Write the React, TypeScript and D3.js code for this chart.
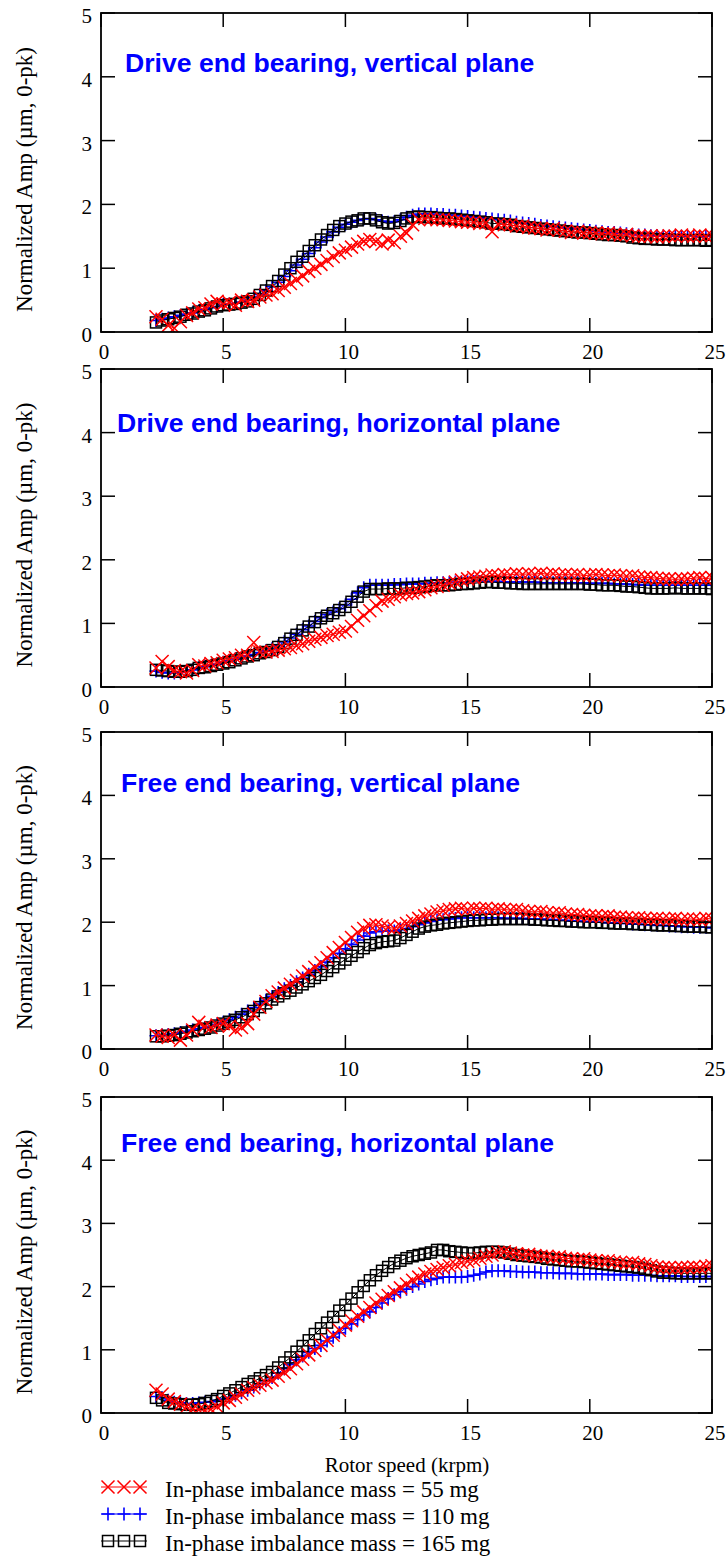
import React from 'react';
import * as d3 from 'd3';

// ---------- data ----------
const speeds = [
  2.25, 2.5, 2.75, 3, 3.25, 3.5, 3.75, 4, 4.25, 4.5, 4.75, 5, 5.25, 5.5, 5.75, 6,
  6.25, 6.5, 6.75, 7, 7.25, 7.5, 7.75, 8, 8.25, 8.5, 8.75, 9, 9.25, 9.5, 9.75, 10,
  10.25, 10.5, 10.75, 11, 11.25, 11.5, 11.75, 12, 12.25, 12.5, 12.75, 13, 13.25, 13.5, 13.75, 14,
  14.25, 14.5, 14.75, 15, 15.25, 15.5, 15.75, 16, 16.25, 16.5, 16.75, 17, 17.25, 17.5, 17.75, 18,
  18.25, 18.5, 18.75, 19, 19.25, 19.5, 19.75, 20, 20.25, 20.5, 20.75, 21, 21.25, 21.5, 21.75, 22,
  22.25, 22.5, 22.75, 23, 23.25, 23.5, 23.75, 24, 24.25, 24.5, 24.75, 25,
];

const xTicks = [0, 5, 10, 15, 20, 25];
const yTicks = [0, 1, 2, 3, 4, 5];

const panelTitles = [
  'Drive end bearing, vertical plane',
  'Drive end bearing, horizontal plane',
  'Free end bearing, vertical plane',
  'Free end bearing, horizontal plane',
];

const legendLabels = [
  'In-phase imbalance mass = 55 mg',
  'In-phase imbalance mass = 110 mg',
  'In-phase imbalance mass = 165 mg',
];

// Panel 1: drive end, vertical
const de_v_55 = [
  0.24, 0.2, 0.1, 0.06, 0.16, 0.26, 0.3, 0.36, 0.38, 0.44, 0.48, 0.44, 0.46, 0.42, 0.5, 0.48,
  0.5, 0.55, 0.58, 0.6, 0.65, 0.7, 0.76, 0.82, 0.88, 0.95, 1.0, 1.06, 1.12, 1.18, 1.24, 1.28,
  1.33, 1.38, 1.42, 1.45, 1.42, 1.38, 1.44, 1.4, 1.5, 1.55, 1.68, 1.76, 1.78, 1.77, 1.76, 1.76,
  1.75, 1.74, 1.73, 1.72, 1.72, 1.7, 1.71, 1.57, 1.69, 1.68, 1.68, 1.66, 1.66, 1.64, 1.63, 1.62,
  1.6, 1.62, 1.6, 1.58, 1.56, 1.58, 1.55, 1.56, 1.55, 1.54, 1.55, 1.53, 1.52, 1.53, 1.51, 1.5,
  1.5, 1.51, 1.49, 1.5, 1.51, 1.5, 1.52, 1.5, 1.5, 1.52, 1.5, 1.51,
];
const de_v_110 = [
  0.18, 0.2, 0.22, 0.24, 0.26, 0.28, 0.3, 0.33, 0.35, 0.38, 0.4, 0.43, 0.44, 0.45, 0.47, 0.5,
  0.54, 0.59, 0.65, 0.71, 0.78, 0.87, 0.96, 1.05, 1.14, 1.23, 1.32, 1.41, 1.49, 1.57, 1.64, 1.69,
  1.72, 1.75, 1.77, 1.78, 1.76, 1.74, 1.72, 1.73, 1.76, 1.8, 1.83, 1.85, 1.85, 1.85, 1.84, 1.84,
  1.83, 1.83, 1.82, 1.81, 1.8, 1.79, 1.78, 1.77, 1.76, 1.75, 1.74, 1.72, 1.71, 1.7, 1.69, 1.67,
  1.66, 1.65, 1.64, 1.63, 1.62, 1.61, 1.6, 1.59, 1.58, 1.57, 1.56, 1.56, 1.55, 1.54, 1.53, 1.52,
  1.52, 1.51, 1.51, 1.5, 1.5, 1.5, 1.5, 1.5, 1.5, 1.49, 1.5, 1.5,
];
const de_v_165 = [
  0.15, 0.18, 0.2, 0.22, 0.24, 0.27, 0.29, 0.32, 0.34, 0.37, 0.4, 0.42, 0.43, 0.44, 0.46, 0.48,
  0.52, 0.58, 0.65, 0.72, 0.8, 0.9, 1.0, 1.1, 1.18, 1.27, 1.36, 1.45, 1.52, 1.6, 1.66, 1.7,
  1.73, 1.75, 1.78, 1.78, 1.75, 1.72, 1.7, 1.71, 1.74, 1.78, 1.8, 1.81, 1.8, 1.8, 1.79, 1.78,
  1.78, 1.77, 1.76, 1.75, 1.74, 1.73, 1.72, 1.7, 1.7, 1.69, 1.68, 1.66, 1.65, 1.64, 1.63, 1.62,
  1.61, 1.6, 1.59, 1.58, 1.57, 1.56, 1.56, 1.55, 1.54, 1.53, 1.52, 1.52, 1.51, 1.5, 1.48, 1.47,
  1.46, 1.46, 1.45, 1.45, 1.45, 1.44, 1.44, 1.44, 1.44, 1.44, 1.43, 1.44,
];

// Panel 2: drive end, horizontal
const de_h_55 = [
  0.3, 0.4, 0.32, 0.26, 0.24, 0.22, 0.26, 0.35, 0.33, 0.37, 0.38, 0.42, 0.44, 0.46, 0.5, 0.5,
  0.7, 0.55, 0.55, 0.56, 0.58, 0.6, 0.62, 0.65, 0.68, 0.72, 0.75, 0.78, 0.81, 0.83, 0.86, 0.88,
  0.95, 1.05, 1.12, 1.2, 1.28, 1.35, 1.38, 1.42, 1.45, 1.47, 1.48, 1.5, 1.53, 1.56, 1.58, 1.6,
  1.63, 1.65, 1.68, 1.7, 1.72, 1.73, 1.74, 1.76, 1.75, 1.77, 1.76, 1.78, 1.77, 1.78, 1.77, 1.79,
  1.77, 1.78, 1.76, 1.77, 1.76, 1.77, 1.75, 1.76, 1.77, 1.76, 1.75, 1.76, 1.75, 1.74, 1.75, 1.73,
  1.72, 1.72, 1.71, 1.7, 1.7, 1.69, 1.7, 1.7, 1.71, 1.72, 1.7, 1.72,
];
const de_h_110 = [
  0.25, 0.23, 0.22, 0.22, 0.23, 0.25, 0.27, 0.3, 0.32, 0.34, 0.36, 0.39, 0.41, 0.44, 0.46, 0.49,
  0.51, 0.54, 0.57, 0.6, 0.65, 0.71, 0.77, 0.83, 0.9, 0.96, 1.03, 1.09, 1.14, 1.18, 1.23, 1.29,
  1.38, 1.48, 1.56, 1.6, 1.6, 1.6, 1.6, 1.61, 1.61, 1.62, 1.62, 1.62, 1.63, 1.63, 1.64, 1.64,
  1.64, 1.65, 1.65, 1.65, 1.66, 1.66, 1.66, 1.66, 1.66, 1.65, 1.65, 1.65, 1.65, 1.65, 1.65, 1.64,
  1.64, 1.64, 1.64, 1.64, 1.64, 1.64, 1.64, 1.63, 1.63, 1.63, 1.63, 1.62, 1.62, 1.62, 1.61, 1.61,
  1.6, 1.6, 1.6, 1.6, 1.6, 1.6, 1.6, 1.6, 1.6, 1.6, 1.6, 1.6,
];
const de_h_165 = [
  0.27, 0.26, 0.25, 0.24, 0.24, 0.25, 0.27, 0.3, 0.31, 0.33, 0.35, 0.37, 0.39, 0.42, 0.45, 0.48,
  0.5, 0.53, 0.55, 0.58, 0.63, 0.69, 0.76, 0.82, 0.89, 0.95, 1.02, 1.08, 1.12, 1.16, 1.21, 1.26,
  1.34, 1.42, 1.5, 1.54, 1.54, 1.54, 1.55, 1.55, 1.55, 1.56, 1.56, 1.57, 1.58, 1.59, 1.6, 1.6,
  1.6, 1.61, 1.62, 1.62, 1.63, 1.64, 1.65, 1.65, 1.64, 1.64, 1.63, 1.63, 1.62, 1.62, 1.62, 1.62,
  1.62, 1.62, 1.62, 1.62, 1.62, 1.62, 1.62, 1.61, 1.61, 1.6, 1.6, 1.6, 1.59, 1.58, 1.58, 1.57,
  1.56, 1.55, 1.55, 1.55, 1.55, 1.56, 1.55, 1.55, 1.55, 1.55, 1.55, 1.54,
];

// Panel 3: free end, vertical
const fe_v_55 = [
  0.22, 0.2, 0.18, 0.22, 0.14, 0.22, 0.3, 0.42, 0.36, 0.34, 0.38, 0.4, 0.36, 0.3, 0.34, 0.4,
  0.55, 0.66, 0.75, 0.84, 0.9, 0.96, 1.02, 1.08, 1.15, 1.22, 1.29, 1.36, 1.44, 1.52, 1.6, 1.68,
  1.76, 1.84, 1.9, 1.95, 1.96, 1.94, 1.92, 1.9, 1.94, 1.98, 2.02, 2.06, 2.1, 2.13, 2.16, 2.18,
  2.2, 2.21, 2.22, 2.2, 2.22, 2.21, 2.22, 2.2, 2.21, 2.2, 2.19, 2.2, 2.18, 2.17, 2.16, 2.17,
  2.15, 2.14, 2.15, 2.13, 2.12, 2.12, 2.11, 2.1, 2.1, 2.09, 2.1, 2.08, 2.08, 2.07, 2.06, 2.07,
  2.06, 2.05, 2.06, 2.05, 2.05, 2.06, 2.04, 2.05, 2.05, 2.04, 2.06, 2.05,
];
const fe_v_110 = [
  0.21, 0.22, 0.23, 0.24, 0.26, 0.28, 0.3, 0.32, 0.34, 0.36, 0.39, 0.42, 0.46, 0.5, 0.55, 0.6,
  0.65, 0.71, 0.77, 0.83, 0.89, 0.95, 1.0, 1.06, 1.12, 1.18, 1.24, 1.3, 1.37, 1.44, 1.51, 1.58,
  1.65, 1.72, 1.78, 1.83, 1.85, 1.86, 1.86, 1.86, 1.88, 1.9, 1.93, 1.96, 1.99, 2.01, 2.03, 2.04,
  2.05, 2.06, 2.07, 2.07, 2.07, 2.07, 2.07, 2.07, 2.07, 2.06, 2.06, 2.06, 2.06, 2.05, 2.05, 2.05,
  2.04, 2.04, 2.03, 2.03, 2.02, 2.02, 2.01, 2.01, 2.0, 2.0, 1.99, 1.99, 1.98, 1.98, 1.97, 1.97,
  1.96, 1.96, 1.95, 1.95, 1.94, 1.94, 1.93, 1.93, 1.92, 1.92, 1.92, 1.91,
];
const fe_v_165 = [
  0.2, 0.2, 0.21, 0.22, 0.24, 0.26, 0.28, 0.3, 0.32, 0.34, 0.37, 0.4, 0.43, 0.46, 0.5, 0.55,
  0.6, 0.66, 0.72, 0.78, 0.83, 0.88, 0.92, 0.97, 1.02, 1.07, 1.12, 1.17, 1.23, 1.29, 1.35, 1.41,
  1.47, 1.53, 1.59, 1.64, 1.67, 1.69, 1.7, 1.71, 1.75, 1.8, 1.85, 1.9, 1.93, 1.95, 1.96, 1.98,
  1.99, 2.0, 2.01, 2.02, 2.03, 2.03, 2.04, 2.04, 2.05, 2.05, 2.05, 2.05, 2.05, 2.05, 2.04, 2.04,
  2.03, 2.03, 2.02, 2.02, 2.01, 2.01, 2.0, 2.0, 2.0, 1.99, 1.99, 1.98, 1.98, 1.98, 1.97, 1.97,
  1.96, 1.96, 1.95, 1.95, 1.95, 1.94, 1.94, 1.93, 1.93, 1.93, 1.92, 1.92,
];

// Panel 4: free end, horizontal
const fe_h_55 = [
  0.36, 0.3, 0.22, 0.18, 0.14, 0.1, 0.06, 0.05, 0.04, 0.06, 0.1, 0.16, 0.2, 0.25, 0.3, 0.36,
  0.4, 0.44, 0.48, 0.52, 0.58, 0.64, 0.7, 0.78, 0.85, 0.92, 0.99, 1.07, 1.15, 1.23, 1.31, 1.39,
  1.46, 1.53, 1.6, 1.67, 1.74, 1.8, 1.86, 1.92, 1.98, 2.04, 2.1, 2.15, 2.2, 2.24, 2.27, 2.3,
  2.33, 2.35, 2.38, 2.4, 2.42, 2.45, 2.48, 2.5, 2.54, 2.55, 2.53, 2.52, 2.5, 2.51, 2.49, 2.48,
  2.48, 2.46, 2.47, 2.45, 2.44, 2.43, 2.44, 2.42, 2.41, 2.4, 2.41, 2.39, 2.38, 2.37, 2.38, 2.36,
  2.35, 2.33, 2.31, 2.3, 2.3, 2.29, 2.3, 2.3, 2.31, 2.3, 2.32, 2.33,
];
const fe_h_110 = [
  0.26, 0.24, 0.2, 0.17, 0.16, 0.15, 0.15, 0.16, 0.17, 0.18, 0.2, 0.22, 0.25, 0.28, 0.32, 0.36,
  0.41, 0.46, 0.51, 0.56, 0.63, 0.7, 0.77, 0.84, 0.9, 0.96, 1.02, 1.07, 1.14, 1.2, 1.27, 1.34,
  1.41, 1.48, 1.55, 1.6, 1.67, 1.74, 1.81, 1.87, 1.92, 1.96, 2.0, 2.04, 2.08, 2.11, 2.13, 2.15,
  2.15, 2.15, 2.15, 2.16, 2.18, 2.2, 2.23, 2.25, 2.25, 2.25, 2.24, 2.24, 2.23, 2.23, 2.23, 2.22,
  2.22, 2.22, 2.21, 2.21, 2.21, 2.2, 2.2, 2.2, 2.2, 2.2, 2.19, 2.19, 2.19, 2.19, 2.18, 2.18,
  2.18, 2.18, 2.17, 2.17, 2.17, 2.17, 2.16, 2.16, 2.16, 2.16, 2.16, 2.16,
];
const fe_h_165 = [
  0.24, 0.2, 0.16, 0.15, 0.14, 0.13, 0.13, 0.14, 0.16, 0.19, 0.22, 0.27, 0.31, 0.36, 0.41, 0.46,
  0.5, 0.55, 0.6, 0.65, 0.72, 0.8, 0.88, 0.97, 1.06, 1.15, 1.25, 1.34, 1.43, 1.52, 1.62, 1.71,
  1.81, 1.91, 2.01, 2.1, 2.18, 2.25, 2.31, 2.37, 2.41, 2.45, 2.48, 2.5, 2.52, 2.54, 2.58, 2.58,
  2.56, 2.55, 2.54, 2.53, 2.53, 2.54, 2.55, 2.55, 2.55, 2.54, 2.52, 2.5, 2.49, 2.48, 2.47, 2.46,
  2.44, 2.43, 2.42, 2.41, 2.4, 2.4, 2.39, 2.38, 2.37, 2.36, 2.35, 2.34, 2.33, 2.32, 2.31, 2.3,
  2.28, 2.26, 2.24, 2.22, 2.22, 2.21, 2.21, 2.21, 2.21, 2.21, 2.21, 2.21,
];

const panelData = [
  [de_v_55, de_v_110, de_v_165],
  [de_h_55, de_h_110, de_h_165],
  [fe_v_55, fe_v_110, fe_v_165],
  [fe_h_55, fe_h_110, fe_h_165],
];

// ---------- layout / style ----------
const W = 727;
const H = 1558;
const LEFT = 101;
const RIGHT = 712;
const PANEL_TOP = [13, 369, 732, 1097];
const PANEL_BOTTOM = [332, 687, 1049, 1413];
const TITLE_X = [125, 117, 121, 121];
const TITLE_Y = [72, 432, 792, 1152];
const COLORS = ['#ff0000', '#0000ff', '#000000'];
const SERIF = "'Liberation Serif', 'Times New Roman', serif";
const SANS = "'Liberation Sans', Arial, sans-serif";
const TICK = 14;

function Marker({ kind, color }: { kind: number; color: string }) {
  if (kind === 0) {
    return <path d="M-6.5,-6.5L6.5,6.5M-6.5,6.5L6.5,-6.5" stroke={color} strokeWidth={1.5} fill="none" />;
  }
  if (kind === 1) {
    return <path d="M-6.5,0H6.5M0,-6.5V6.5" stroke={color} strokeWidth={1.6} fill="none" />;
  }
  return <rect x={-5.5} y={-5.5} width={11} height={11} stroke={color} strokeWidth={1.5} fill="none" />;
}

function Panel({ idx }: { idx: number }) {
  const top = PANEL_TOP[idx];
  const bottom = PANEL_BOTTOM[idx];
  const x = d3.scaleLinear().domain([0, 25]).range([LEFT, RIGHT]);
  const y = d3.scaleLinear().domain([0, 5]).range([bottom, top]);
  const line = d3
    .line<number>()
    .x((_, i) => x(speeds[i]))
    .y((d) => y(d));
  const clipId = `clip${idx}`;
  const order = [1, 2, 0];
  return (
    <g>
      <defs>
        <clipPath id={clipId}>
          <rect x={LEFT} y={top} width={RIGHT - LEFT} height={bottom - top} />
        </clipPath>
      </defs>
      <g clipPath={`url(#${clipId})`}>
        {order.map((s) => (
          <g key={s}>
            <path d={line(panelData[idx][s]) || ''} stroke={COLORS[s]} strokeWidth={1} fill="none" />
            {panelData[idx][s].map((v, i) => (
              <g key={i} transform={`translate(${x(speeds[i])},${y(v)})`}>
                <Marker kind={s} color={COLORS[s]} />
              </g>
            ))}
          </g>
        ))}
      </g>
      {xTicks.map((t) => (
        <g key={`x${t}`}>
          <line x1={x(t)} x2={x(t)} y1={bottom} y2={bottom - TICK} stroke="#000" strokeWidth={1.5} />
          <line x1={x(t)} x2={x(t)} y1={top} y2={top + TICK} stroke="#000" strokeWidth={1.5} />
          <text
            x={x(t) + 3}
            y={bottom + 27}
            textAnchor="middle"
            fontFamily={SERIF}
            fontSize={21}
            fill="#000"
          >
            {t}
          </text>
        </g>
      ))}
      {yTicks.map((t) => (
        <g key={`y${t}`}>
          <line x1={LEFT} x2={LEFT + TICK} y1={y(t)} y2={y(t)} stroke="#000" strokeWidth={1.5} />
          <line x1={RIGHT} x2={RIGHT - TICK} y1={y(t)} y2={y(t)} stroke="#000" strokeWidth={1.5} />
          <text x={92} y={y(t) + 10} textAnchor="end" fontFamily={SERIF} fontSize={21} fill="#000">
            {t}
          </text>
        </g>
      ))}
      <rect
        x={LEFT}
        y={top}
        width={RIGHT - LEFT}
        height={bottom - top}
        fill="none"
        stroke="#000"
        strokeWidth={1.8}
      />
      <text
        transform={`translate(32,${(top + bottom) / 2 + 7}) rotate(-90)`}
        textAnchor="middle"
        fontFamily={SERIF}
        fontSize={23}
        fill="#000"
      >
        Normalized Amp (µm, 0-pk)
      </text>
      <text
        x={TITLE_X[idx]}
        y={TITLE_Y[idx]}
        fontFamily={SANS}
        fontWeight="bold"
        fontSize={26.6}
        fill="#0000ff"
      >
        {panelTitles[idx]}
      </text>
    </g>
  );
}

function Legend() {
  const rowsY = [1487, 1514, 1541];
  const markerX = [108, 124, 140];
  return (
    <g>
      <text x={407} y={1472} textAnchor="middle" fontFamily={SERIF} fontSize={21} fill="#000">
        Rotor speed (krpm)
      </text>
      {legendLabels.map((lab, s) => (
        <g key={s}>
          <line x1={101} x2={147} y1={rowsY[s]} y2={rowsY[s]} stroke={COLORS[s]} strokeWidth={1} />
          {markerX.map((mx) => (
            <g key={mx} transform={`translate(${mx},${rowsY[s]})`}>
              <Marker kind={s} color={COLORS[s]} />
            </g>
          ))}
          <text x={165} y={rowsY[s] + 10} fontFamily={SERIF} fontSize={23} fill="#000">
            {lab}
          </text>
        </g>
      ))}
    </g>
  );
}

export default function App() {
  return (
    <svg
      width={W}
      height={H}
      viewBox={`0 0 ${W} ${H}`}
      style={{ position: 'absolute', left: 0, top: 0, background: '#fff' }}
    >
      <rect x={0} y={0} width={W} height={H} fill="#fff" />
      {[0, 1, 2, 3].map((i) => (
        <Panel key={i} idx={i} />
      ))}
      <Legend />
    </svg>
  );
}
